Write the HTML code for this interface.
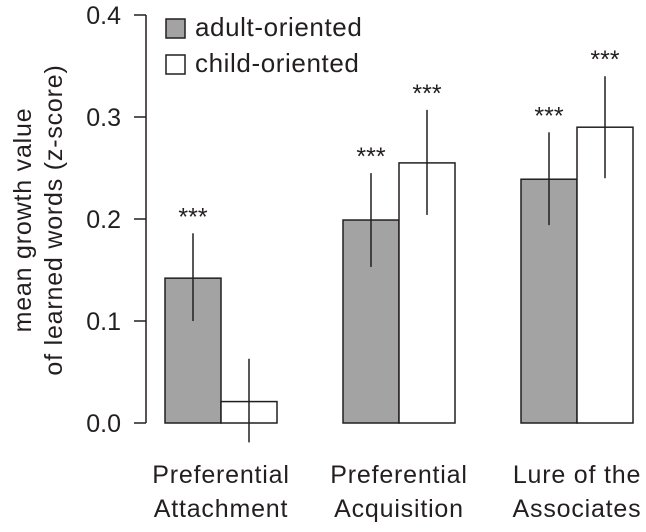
<!DOCTYPE html>
<html><head><meta charset="utf-8"><style>
body{margin:0;background:#fff}
svg text{font-family:"Liberation Sans",sans-serif;fill:#231f20}
</style></head><body>
<svg id="chart" width="646" height="527" xmlns="http://www.w3.org/2000/svg">
<g id="axis"></g>
<g id="bars"></g>
<g id="xl"></g>
<g transform="translate(31,220) rotate(-90)">
<text x="0" y="0" text-anchor="middle" font-size="25" letter-spacing="0.8">mean growth value</text>
<text x="0" y="31" text-anchor="middle" font-size="25" letter-spacing="0.8">of learned words (z-score)</text>
</g>
<g>
<rect x="166" y="19" width="19" height="19" fill="#a3a3a3" stroke="#231f20" stroke-width="1.5"/>
<text x="195" y="36" font-size="26" letter-spacing="0.6">adult-oriented</text>
<rect x="166" y="55" width="19" height="19" fill="#fff" stroke="#231f20" stroke-width="1.5"/>
<text x="195" y="72" font-size="26" letter-spacing="0.6">child-oriented</text>
</g>
</svg>
<script>
const categories=[["Preferential","Attachment"],["Preferential","Acquisition"],["Lure of the","Associates"]];
const adultVals=[0.142,0.199,0.239];
const childVals=[0.021,0.255,0.290];
const adultLo=[0.100,0.153,0.194];
const adultHi=[0.186,0.245,0.285];
const childLo=[-0.019,0.204,0.240];
const childHi=[0.063,0.307,0.340];
const adultSig=["***","***","***"];
const childSig=["","***","***"];
const yTicks=[0.0,0.1,0.2,0.3,0.4];
const NS="http://www.w3.org/2000/svg";
const y=v=>423-v*1020;
const cx=i=>221+i*178;
const W=56;
function mk(t,a,p){const e=document.createElementNS(NS,t);for(const k in a)e.setAttribute(k,a[k]);p.appendChild(e);return e;}
const ax=document.getElementById('axis');
let l=mk('line',{x1:146,x2:146,y1:y(0.4),y2:y(0),stroke:'#231f20','stroke-width':1.5},ax);


yTicks.forEach(t=>{
 const tk=mk('line',{x1:134,x2:146,y1:y(t),y2:y(t),stroke:'#231f20','stroke-width':1.5},ax);
 
 
 const tx=mk('text',{x:121,y:y(t)+9,'text-anchor':'end','font-size':25},ax);
 tx.textContent=t.toFixed(1);
 
 
});
const bg=document.getElementById('bars');
function bar(x0,w,v,lo,hi,sig,fill,name){
 const r=mk('rect',{x:x0,y:Math.min(y(v),y(0)),width:w,height:Math.abs(y(0)-y(v)),fill:fill,stroke:'#231f20','stroke-width':1.5},bg);
 
 
 const ex=x0+w/2;
 const e=mk('line',{x1:ex,x2:ex,y1:y(hi),y2:y(lo),stroke:'#231f20','stroke-width':1.5},bg);
 
 
 if(sig){const s=mk('text',{x:ex,y:y(hi)-8,'text-anchor':'middle','font-size':25},bg);s.textContent=sig;
 
 }
}
categories.forEach((c,i)=>{
 bar(cx(i)-W,W,adultVals[i],adultLo[i],adultHi[i],adultSig[i],'#a3a3a3','bar-adult-'+i);
 bar(cx(i),W,childVals[i],childLo[i],childHi[i],childSig[i],'#fff','bar-child-'+i);
 const xl=document.getElementById('xl');
 c.forEach((line,j)=>{const t=mk('text',{x:cx(i),y:483+j*34,'text-anchor':'middle','font-size':25,'letter-spacing':0.8},xl);t.textContent=line;
 
 });
});
</script>
</body></html>
